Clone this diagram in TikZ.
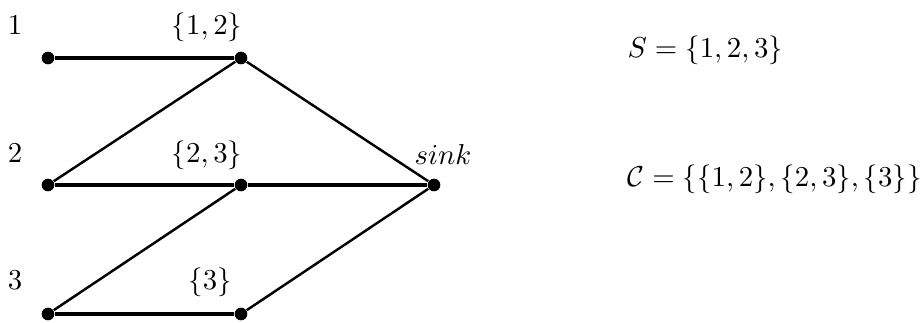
\documentclass[tikz,border=0pt]{standalone}
\begin{document}
\begin{tikzpicture}[x=0.347pt,y=-0.347pt,
  dot/.style={circle,fill=black,inner sep=0pt,minimum size=4.4pt},
  hedge/.style={line width=1.35pt},
  dedge/.style={line width=0.85pt},
  lbl/.style={anchor=base,inner sep=0pt}]
\useasboundingbox (0,0) rectangle (924,323);
\node[dot] (v1) at (48,58) {};
\node[dot] (c12) at (241,58) {};
\node[dot] (v2) at (48,185) {};
\node[dot] (c23) at (241,185) {};
\node[dot] (sink) at (434,185) {};
\node[dot] (v3) at (48,314) {};
\node[dot] (c3) at (241,314) {};
\draw[hedge] (v1) -- (c12);
\draw[hedge] (v2) -- (c23);
\draw[hedge] (c23) -- (sink);
\draw[hedge] (v3) -- (c3);
\draw[dedge] (v2) -- (c12);
\draw[dedge] (v3) -- (c23);
\draw[dedge] (c12) -- (sink);
\draw[dedge] (c3) -- (sink);
\node[lbl] (l1) at (15,35) {$1$};
\node[lbl] (l2) at (15,163) {$2$};
\node[lbl] (l3) at (15,290) {$3$};
\node[lbl] (lc12) at (207,35) {$\{1,2\}$};
\node[lbl] (lc23) at (207,163) {$\{2,3\}$};
\node[lbl] (lc3) at (210,290) {$\{3\}$};
\node[lbl] (lsink) at (443,165) {$sink$};
\node[lbl,anchor=base west] (S) at (627,58) {$S=\{1,2,3\}$};
\node[lbl,anchor=base west] (C) at (627,187) {$\mathcal{C}=\{\{1,2\},\{2,3\},\{3\}\}$};
\end{tikzpicture}
\end{document}
